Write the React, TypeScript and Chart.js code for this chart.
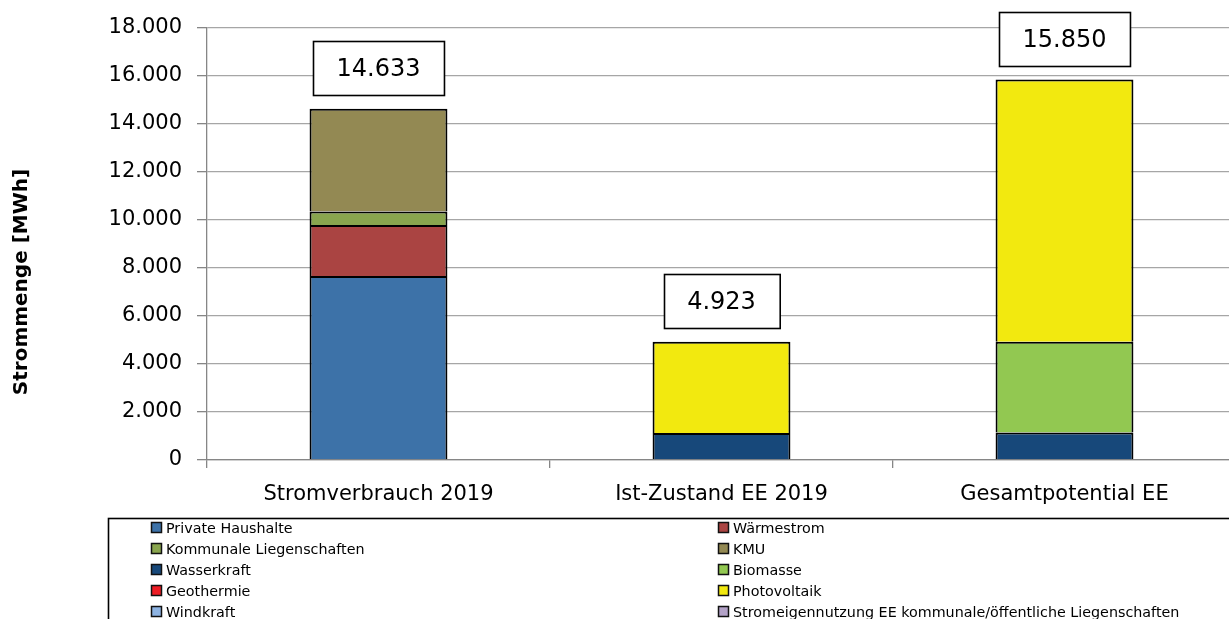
import React, { useEffect, useRef } from "react";
import { Chart, registerables } from "chart.js";

Chart.register(...registerables);

const categories = ["Stromverbrauch 2019", "Ist-Zustand EE 2019", "Gesamtpotential EE"];

const seriesNames = [
  "Private Haushalte",
  "Wärmestrom",
  "Kommunale Liegenschaften",
  "KMU",
  "Wasserkraft",
  "Biomasse",
  "Geothermie",
  "Photovoltaik",
  "Windkraft",
  "Stromeigennutzung EE kommunale/öffentliche Liegenschaften",
];

const seriesColors = [
  "#3D72A8",
  "#AA4442",
  "#89A54E",
  "#938953",
  "#17487A",
  "#92C851",
  "#ED1C24",
  "#F2E90F",
  "#8DB3E2",
  "#B3A2C7",
];

const privateHaushalte = [7670, null, null];
const waermestrom = [2118, null, null];
const kommunale = [571, null, null];
const kmu = [4274, null, null];
const wasserkraft = [null, 1128, 1150];
const biomasse = [null, null, 3780];
const geothermie = [null, null, null];
const photovoltaik = [null, 3795, 10920];
const windkraft = [null, null, null];
const stromeigennutzung = [null, null, null];

const seriesValues = [
  privateHaushalte,
  waermestrom,
  kommunale,
  kmu,
  wasserkraft,
  biomasse,
  geothermie,
  photovoltaik,
  windkraft,
  stromeigennutzung,
];

const yTicks = [0, 2000, 4000, 6000, 8000, 10000, 12000, 14000, 16000, 18000];

const FONT = "'DejaVu Sans', sans-serif";

function fmtDE(v: number): string {
  const s = Math.round(v).toString();
  return s.replace(/\B(?=(\d{3})+(?!\d))/g, ".");
}

const overlayPlugin = {
  id: "overlay",
  afterDraw(chart: any) {
    const ctx = chart.ctx;
    const xs = chart.scales.x;
    const ys = chart.scales.y;
    ctx.save();

    // y axis title
    ctx.save();
    ctx.translate(22, 282);
    ctx.rotate(-Math.PI / 2);
    ctx.font = `bold 20px ${FONT}`;
    ctx.fillStyle = "#000";
    ctx.textAlign = "center";
    ctx.textBaseline = "middle";
    ctx.fillText("Strommenge [MWh]", 0, 0);
    ctx.restore();

    // total boxes
    ctx.font = `24px ${FONT}`;
    categories.forEach((_, i) => {
      let sum = 0;
      chart.data.datasets.forEach((ds: any) => {
        const v = ds.data[i];
        if (typeof v === "number") sum += v;
      });
      const label = fmtDE(sum);
      const cx = xs.getPixelForValue(i);
      const top = ys.getPixelForValue(sum);
      const tw = ctx.measureText(label).width;
      const w = tw + 47;
      const h = 54;
      const bottom = top - 14;
      const x0 = Math.round(cx - w / 2) + 0.5;
      const y0 = Math.round(bottom - h) + 0.5;
      ctx.fillStyle = "#fff";
      ctx.fillRect(x0, y0, w, h);
      ctx.strokeStyle = "#000";
      ctx.lineWidth = 1.6;
      ctx.strokeRect(x0, y0, w, h);
      ctx.fillStyle = "#000";
      ctx.textAlign = "center";
      ctx.textBaseline = "middle";
      ctx.fillText(label, cx, y0 + h / 2 + 1);
    });

    // legend
    ctx.strokeStyle = "#000";
    ctx.lineWidth = 1.6;
    ctx.strokeRect(108.5, 518.5, chart.width, 200);
    ctx.font = `14.3px ${FONT}`;
    ctx.textAlign = "left";
    ctx.textBaseline = "middle";
    chart.data.datasets.forEach((ds: any, i: number) => {
      const col = i % 2;
      const row = Math.floor(i / 2);
      const mx = col === 0 ? 151 : 718;
      const my = 528 + row * 21;
      ctx.fillStyle = ds.backgroundColor;
      ctx.fillRect(mx + 0.5, my - 5.5, 10, 10);
      ctx.strokeStyle = "#111";
      ctx.lineWidth = 1.5;
      ctx.strokeRect(mx + 0.5, my - 5.5, 10, 10);
      ctx.fillStyle = "#000";
      ctx.fillText(ds.label, mx + 15, my + 1);
    });

    ctx.restore();
  },
};

export default function App() {
  const ref = useRef<HTMLCanvasElement | null>(null);

  useEffect(() => {
    document.body.style.margin = "0";
    const canvas = ref.current;
    if (!canvas) return;
    const chart = new Chart(canvas, {
      type: "bar",
      data: {
        labels: categories,
        datasets: seriesNames.map((name, i) => ({
          label: name,
          data: seriesValues[i] as any,
          backgroundColor: seriesColors[i],
          borderColor: "#000",
          borderWidth: 2,
          borderSkipped: "start",
          barPercentage: 0.402,
          categoryPercentage: 1,
        })),
      },
      options: {
        responsive: false,
        animation: false,
        devicePixelRatio: 1,
        layout: { padding: { left: 0, right: 4, top: 28, bottom: 0 } },
        plugins: {
          legend: { display: false },
          tooltip: { enabled: false },
        },
        scales: {
          x: {
            stacked: true,
            offset: true,
            grid: {
              display: true,
              drawOnChartArea: false,
              drawTicks: true,
              offset: true,
              tickLength: 8,
              color: "#868686",
              lineWidth: 1.3,
            },
            border: { display: true, color: "#868686", width: 1.3 },
            ticks: {
              color: "#000",
              font: { family: FONT, size: 21 },
              padding: 14,
              maxRotation: 0,
            },
            afterFit(scale: any) {
              scale.height = 619 - 460;
            },
          },
          y: {
            stacked: true,
            min: 0,
            max: 18000,
            afterBuildTicks(scale: any) {
              scale.ticks = yTicks.map((v) => ({ value: v }));
            },
            grid: {
              color: "#A6A6A6",
              lineWidth: 1.3,
              drawTicks: true,
              tickLength: 10,
              tickColor: "#868686",
            },
            border: { display: true, color: "#868686", width: 1.3 },
            ticks: {
              color: "#000",
              font: { family: FONT, size: 21 },
              padding: 15,
              callback: (v: any) => fmtDE(Number(v)),
            },
            afterFit(scale: any) {
              scale.width = 207;
            },
          },
        },
      },
      plugins: [overlayPlugin],
    });
    return () => chart.destroy();
  }, []);

  return (
    <div style={{ width: 1229, height: 619, overflow: "hidden", background: "#fff" }}>
      <canvas ref={ref} width={1240} height={619} style={{ width: 1240, height: 619, display: "block" }} />
    </div>
  );
}
